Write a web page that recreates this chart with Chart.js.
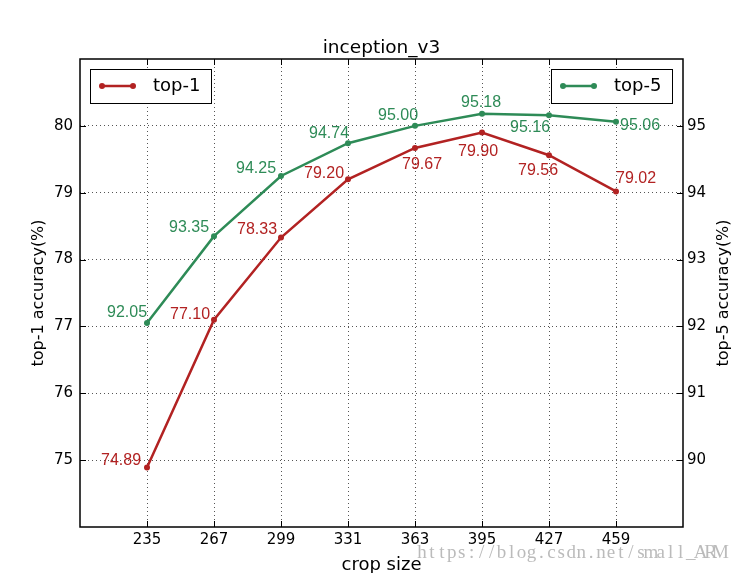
<!DOCTYPE html>
<html>
<head>
<meta charset="utf-8">
<script src="https://cdn.jsdelivr.net/npm/chart.js@4/dist/chart.umd.min.js"></script>
<style>
  body { margin: 0; background: #fff; }
  #wrap { width: 737px; height: 573px; }
</style>
</head>
<body>
<div id="wrap"><canvas id="chartInception" width="737" height="573"></canvas></div>
<script>
// Data
const cropSizes = [235, 267, 299, 331, 363, 395, 427, 459];
const top1 = [74.89, 77.10, 78.33, 79.20, 79.67, 79.90, 79.56, 79.02];
const top5 = [92.05, 93.35, 94.25, 94.74, 95.00, 95.18, 95.16, 95.06];
const top1Ticks = [75, 76, 77, 78, 79, 80];
const top5Ticks = [90, 91, 92, 93, 94, 95];

// where each value label sits relative to its point (left edge, baseline)
const top1LabelOffsets = [[-46, -2], [-44, -1], [-44, -4], [-44, -1], [-13, 21], [-24, 23], [-31, 20], [0, -8]];
const top5LabelOffsets = [[-40, -6], [-45, -4], [-45, -3], [-39, -5], [-37, -6], [-21, -7], [-39, 17], [4, 8]];

const RED = '#b22222';
const GREEN = '#2e8b57';
const FONT = "'DejaVu Sans', sans-serif";

// value labels next to the points
const valueLabels = {
    id: 'valueLabels',
    afterDatasetsDraw(chart) {
        const { ctx } = chart;
        ctx.save();
        ctx.font = "16px 'Liberation Sans', Arial, sans-serif";
        ctx.textAlign = 'left';
        ctx.textBaseline = 'alphabetic';
        const sets = [[top1, top1LabelOffsets, RED], [top5, top5LabelOffsets, GREEN]];
        sets.forEach(([values, offsets, color], di) => {
            ctx.fillStyle = color;
            chart.getDatasetMeta(di).data.forEach((pt, i) => {
                ctx.fillText(values[i].toFixed(2), pt.x + offsets[i][0], pt.y + offsets[i][1]);
            });
        });
        ctx.restore();
    }
};

// matplotlib style frame, inward ticks, title, right label, two legends and the watermark
const frameAndLegends = {
    id: 'frameAndLegends',
    afterDraw(chart) {
        const { ctx, chartArea: a, scales } = chart;
        ctx.save();
        ctx.strokeStyle = '#000';
        ctx.lineWidth = 1;
        ctx.beginPath();
        cropSizes.forEach(v => {
            const x = Math.round(scales.x.getPixelForValue(v)) + 0.5;
            ctx.moveTo(x, a.bottom); ctx.lineTo(x, a.bottom - 6);
            ctx.moveTo(x, a.top); ctx.lineTo(x, a.top + 6);
        });
        top1Ticks.forEach(v => {
            const y = Math.round(scales.y.getPixelForValue(v)) + 0.5;
            ctx.moveTo(a.left, y); ctx.lineTo(a.left + 6, y);
        });
        top5Ticks.forEach(v => {
            const y = Math.round(scales.y2.getPixelForValue(v)) + 0.5;
            ctx.moveTo(a.right, y); ctx.lineTo(a.right - 6, y);
        });
        ctx.stroke();

        ctx.lineWidth = 1.5;
        ctx.strokeRect(a.left, a.top, a.right - a.left, a.bottom - a.top);

        // title, centred over the plot
        ctx.fillStyle = '#000';
        ctx.font = '18.5px ' + FONT;
        ctx.textAlign = 'center';
        ctx.textBaseline = 'alphabetic';
        ctx.fillText('inception_v3', (a.left + a.right) / 2, a.top - 6);

        // right axis label, reading bottom to top
        ctx.save();
        ctx.translate(724, (a.top + a.bottom) / 2);
        ctx.rotate(-Math.PI / 2);
        ctx.font = '16px ' + FONT;
        ctx.textBaseline = 'middle';
        ctx.fillText('top-5 accuracy(%)', 0, 0);
        ctx.restore();

        // legends
        const drawLegend = (x, y, color, text) => {
            ctx.fillStyle = '#fff';
            ctx.fillRect(x, y, 122, 35);
            ctx.lineWidth = 1;
            ctx.strokeStyle = '#000';
            ctx.strokeRect(x + 0.5, y + 0.5, 121, 34);
            ctx.strokeStyle = color;
            ctx.fillStyle = color;
            ctx.lineWidth = 2.5;
            ctx.beginPath();
            ctx.moveTo(x + 12, y + 17);
            ctx.lineTo(x + 43, y + 17);
            ctx.stroke();
            [x + 12, x + 43].forEach(px => {
                ctx.beginPath();
                ctx.arc(px, y + 17, 3, 0, Math.PI * 2);
                ctx.fill();
            });
            ctx.fillStyle = '#000';
            ctx.font = '18px ' + FONT;
            ctx.textAlign = 'left';
            ctx.textBaseline = 'middle';
            ctx.fillText(text, x + 63, y + 17);
        };
        drawLegend(a.left + 10, a.top + 10, RED, 'top-1');
        drawLegend(a.right - 132, a.top + 10, GREEN, 'top-5');

        // watermark, serif glyphs on a fixed pitch
        ctx.fillStyle = 'rgba(180,180,180,0.9)';
        ctx.font = "19px 'Liberation Serif', serif";
        ctx.textAlign = 'center';
        ctx.textBaseline = 'alphabetic';
        const mark = 'https://blog.csdn.net/small_ARM';
        for (let i = 0; i < mark.length; i++) {
            ctx.fillText(mark[i], 422 + i * 9.95, 558);
        }
        ctx.restore();
    }
};

const dotted = { display: false, dash: [1, 3] };
const gridStyle = { color: '#555', lineWidth: 1, drawTicks: false };

new Chart(document.getElementById('chartInception'), {
    type: 'line',
    data: {
        datasets: [{
            label: 'top-1',
            data: cropSizes.map((c, i) => ({ x: c, y: top1[i] })),
            borderColor: RED,
            backgroundColor: RED,
            borderWidth: 2.5,
            pointRadius: 3,
            pointBorderWidth: 0,
            yAxisID: 'y',
        }, {
            label: 'top-5',
            data: cropSizes.map((c, i) => ({ x: c, y: top5[i] })),
            borderColor: GREEN,
            backgroundColor: GREEN,
            borderWidth: 2.5,
            pointRadius: 3,
            pointBorderWidth: 0,
            yAxisID: 'y2',
        }]
    },
    options: {
        responsive: false,
        animation: false,
        layout: { padding: { top: 59 } },
        plugins: {
            legend: { display: false },
            tooltip: { enabled: false },
            title: { display: false },
        },
        scales: {
            x: {
                type: 'linear',
                min: 203,
                max: 491,
                afterBuildTicks: scale => { scale.ticks = cropSizes.map(v => ({ value: v })); },
                afterFit: scale => { scale.height = 46; },
                ticks: {
                    color: '#000',
                    font: { family: FONT, size: 15 },
                    padding: 4,
                    maxRotation: 0,
                    callback: v => String(v),
                },
                grid: gridStyle,
                border: dotted,
                title: {
                    display: true,
                    text: 'crop size',
                    color: '#000',
                    font: { family: FONT, size: 18 },
                    padding: { top: 0, bottom: -3 },
                },
            },
            y: {
                position: 'left',
                min: 74,
                max: 81,
                afterBuildTicks: scale => { scale.ticks = top1Ticks.map(v => ({ value: v })); },
                afterFit: scale => { scale.width = 80; },
                ticks: {
                    color: '#000',
                    font: { family: FONT, size: 15 },
                    padding: 7,
                },
                grid: gridStyle,
                border: dotted,
                title: {
                    display: true,
                    text: 'top-1 accuracy(%)',
                    color: '#000',
                    font: { family: FONT, size: 16 },
                    padding: { top: 29, bottom: 0 },
                },
            },
            y2: {
                position: 'right',
                min: 89,
                max: 96,
                afterBuildTicks: scale => { scale.ticks = top5Ticks.map(v => ({ value: v })); },
                afterFit: scale => { scale.width = 54; },
                ticks: {
                    color: '#000',
                    font: { family: FONT, size: 15 },
                    padding: 4,
                },
                grid: { drawOnChartArea: false, drawTicks: false },
                border: { display: false },
            },
        }
    },
    plugins: [valueLabels, frameAndLegends]
});
</script>
</body>
</html>
